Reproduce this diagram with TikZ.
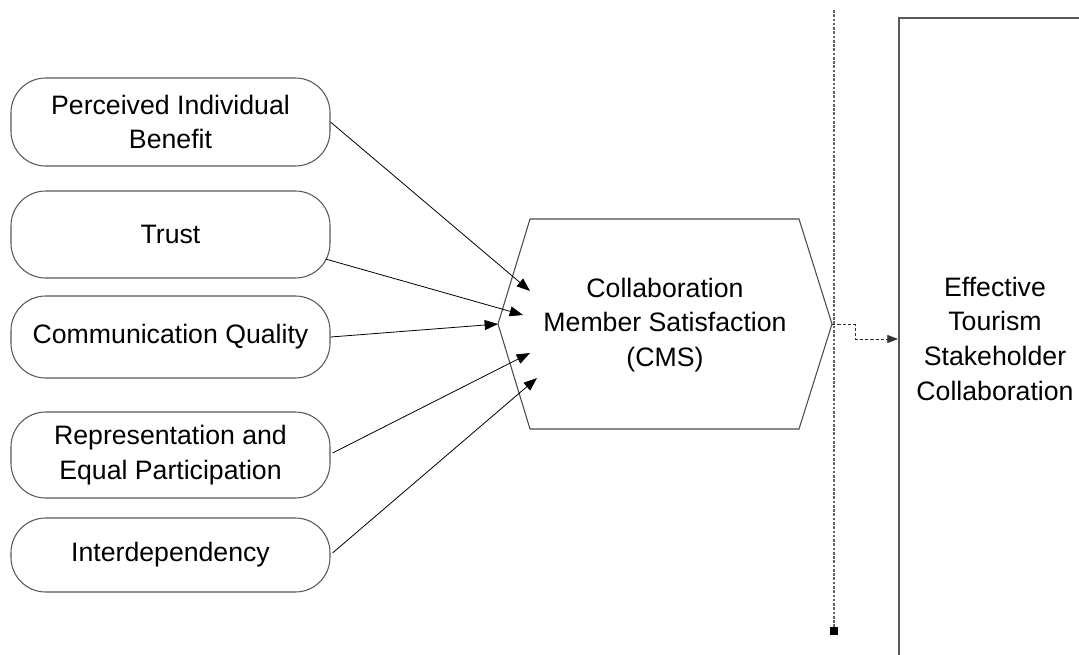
\documentclass[tikz,border=0pt]{standalone}
\usepackage{fontspec}
\setmainfont{Liberation Sans}
\usetikzlibrary{arrows.meta,calc}
\begin{document}
\begin{tikzpicture}[x=0.75pt,y=-0.75pt,
  factor/.style={draw=black!65, line width=0.8pt, rounded corners=26pt, minimum width=239.25pt, align=center, inner sep=2pt, font=\fontsize{20}{26}\selectfont},
  conn/.style={draw=black, line width=0.6pt, -{Triangle[length=10pt,width=7.5pt]}},
  dconn/.style={draw=black!80, line width=0.6pt, dash pattern=on 2.5pt off 1.5pt, -{Triangle[length=8pt,width=6pt]}},
  lbl/.style={align=center, font=\fontsize{20}{26}\selectfont, inner sep=0pt},
  hexa/.style={draw=black!70, line width=0.8pt},
  bigbox/.style={draw=black!65, line width=1.2pt, anchor=north west, minimum width=165pt, minimum height=510pt, inner sep=0pt},
  vline/.style={draw=black!60, line width=0.8pt, dash pattern=on 2pt off 1.2pt}
]
\useasboundingbox (0,0) rectangle (1079,654);
\clip (0,0) rectangle (1079,654);
\fill[white] (0,0) rectangle (1079,654);

% factor boxes
\node[factor, minimum height=66pt]    (b1) at (170.5,122)   {Perceived Individual\\Benefit};
\node[factor, minimum height=65.25pt] (b2) at (170.5,234.5) {Trust};
\node[factor, minimum height=61.5pt]  (b3) at (170.5,337)   {Communication Quality};
\node[factor, minimum height=64.5pt]  (b4) at (170.5,455)   {Representation and\\Equal Participation};
\node[factor, minimum height=55.5pt]  (b5) at (170.5,555)   {Interdependency};

% hexagon
\coordinate (hL) at (498,324);
\coordinate (hR) at (832,324);
\draw[hexa] (530,219) -- (799,219) -- (hR) -- (799,429) -- (530,429) -- (hL) -- cycle;
\node[lbl] (cms) at (665,325) {Collaboration\\Member Satisfaction\\(CMS)};

% arrow targets
\coordinate (t1) at (530,291);
\coordinate (t2) at (523,315);
\coordinate (t4) at (530,353);
\coordinate (t5) at (537,378);

\draw[conn] (b1.east) -- (t1);
\draw[conn] ([shift={(-5,24.5)}]b2.east) -- (t2);
\draw[conn] (b3.east) -- (hL);
\draw[conn] ([shift={(2,-2)}]b4.east) -- (t4);
\draw[conn] ([shift={(2,-2)}]b5.east) -- (t5);

% right box
\node[bigbox] (esc) at (898,17) {};
\node[lbl] (esct) at (995,338.5) {Effective\\Tourism\\Stakeholder\\Collaboration};

% dashed connector
\coordinate (dEnd) at (898,339);
\draw[dconn] (hR) -- ++(23,0) -- ++(0,15) -- (dEnd);

% vertical dotted line
\coordinate (vtop) at (834,10);
\node[fill=black, minimum size=6pt, inner sep=0pt] (vsq) at (834,631) {};
\draw[vline] (vtop) -- (vsq);
\end{tikzpicture}
\end{document}
